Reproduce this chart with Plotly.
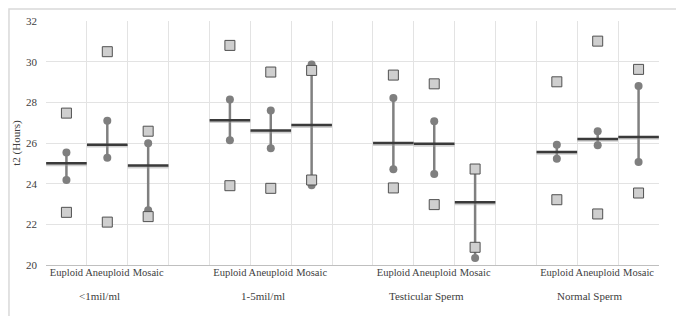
import plotly.graph_objects as go

groups = ["<1mil/ml", "1-5mil/ml", "Testicular Sperm", "Normal Sperm"]
types = ["Euploid", "Aneuploid", "Mosaic"]

# values per group, in order Euploid, Aneuploid, Mosaic
mean_vals = [25.00, 25.92, 24.89, 27.12, 26.61, 26.88, 26.00, 25.96, 23.08, 25.56, 26.20, 26.30]
upper_vals = [25.53, 27.09, 25.99, 28.14, 27.60, 29.86, 28.21, 27.07, 24.72, 25.92, 26.58, 28.80]
lower_vals = [24.18, 25.28, 22.69, 26.14, 25.74, 23.92, 24.71, 24.48, 20.34, 25.22, 25.89, 25.07]
max_vals = [27.47, 30.49, 26.58, 30.80, 29.49, 29.57, 29.34, 28.91, 24.72, 29.01, 31.01, 29.62]
min_vals = [22.59, 22.11, 22.38, 23.90, 23.77, 24.18, 23.79, 22.97, 20.87, 23.21, 22.51, 23.54]
y_ticks = [20, 22, 24, 26, 28, 30, 32]

# category slots: 3 per group + one blank slot between groups
xs = []
labels = []
for gi, g in enumerate(groups):
    for ti, t in enumerate(types):
        xs.append(gi * 4 + ti)
        labels.append(t)
n_slots = len(groups) * 4 - 1

FONT = "Liberation Serif"

fig = go.Figure()

# vertical whisker lines (lower to upper)
fig.add_trace(go.Scatter(
    x=xs, y=mean_vals, mode="markers",
    marker=dict(size=0.1, color="rgba(0,0,0,0)"),
    error_y=dict(type="data", symmetric=False,
                 array=[u - m for u, m in zip(upper_vals, mean_vals)],
                 arrayminus=[m - l for m, l in zip(mean_vals, lower_vals)],
                 width=0, thickness=2.5, color="#808080"),
    hoverinfo="skip", showlegend=False))

# end circles
fig.add_trace(go.Scatter(
    x=xs + xs, y=upper_vals + lower_vals, mode="markers",
    marker=dict(symbol="circle", size=8, color="#7f7f7f"),
    showlegend=False))

# min / max squares
fig.add_trace(go.Scatter(
    x=xs + xs, y=max_vals + min_vals, mode="markers",
    marker=dict(symbol="square", size=10, color="#cfcfcf",
                line=dict(color="#505050", width=1)),
    showlegend=False))

# mean dash shadow
fig.add_trace(go.Scatter(
    x=xs, y=[m - 0.08 for m in mean_vals], mode="markers",
    marker=dict(symbol="line-ew", size=29, line=dict(color="rgba(150,150,150,0.45)", width=2.5)),
    hoverinfo="skip", showlegend=False))
# mean dash
fig.add_trace(go.Scatter(
    x=xs, y=mean_vals, mode="markers",
    marker=dict(symbol="line-ew", size=29, line=dict(color="#3a3a3a", width=2.5)),
    showlegend=False))

# group labels
for gi, g in enumerate(groups):
    fig.add_annotation(x=gi * 4 + 0.8, y=0, xref="x", yref="paper",
                       yshift=-39, text=g.replace("<", "&lt;"), showarrow=False,
                       font=dict(family=FONT, size=11, color="#404040"))

# outer border
fig.add_shape(type="rect", xref="paper", yref="paper",
              x0=-0.0604, x1=1.052, y0=-0.2377, y1=1.049,
              line=dict(color="#d9d9d9", width=1.5))

fig.update_layout(
    width=684, height=316,
    margin=dict(l=38, r=33, t=13, b=59),
    paper_bgcolor="white", plot_bgcolor="white",
    showlegend=False,
    font=dict(family=FONT, size=11, color="#404040"),
    xaxis=dict(
        range=[-0.5, n_slots - 0.5],
        tickmode="array", tickvals=xs, ticktext=labels,
        tickangle=0, automargin=False,
        showgrid=False, zeroline=False,
        showline=True, linecolor="#bfbfbf", linewidth=1,
        ticks="", ticklen=0, ticklabelstandoff=-3,
        tickfont=dict(family=FONT, size=10.5, color="#404040"),
        minor=dict(tickmode="linear", tick0=-0.5, dtick=1, showgrid=True,
                   gridcolor="#e3e3e3", gridwidth=1, ticks=""),
    ),
    yaxis=dict(
        range=[20, 32], tickvals=y_ticks, automargin=False,
        showgrid=True, gridcolor="#e3e3e3", gridwidth=1,
        zeroline=False, showline=False, ticks="", ticklabelstandoff=8,
        tickfont=dict(family=FONT, size=11, color="#404040"),
        title=dict(text="t2 (Hours)", standoff=3,
                   font=dict(family=FONT, size=11, color="#404040")),
    ),
)

fig.write_html("out.html")
